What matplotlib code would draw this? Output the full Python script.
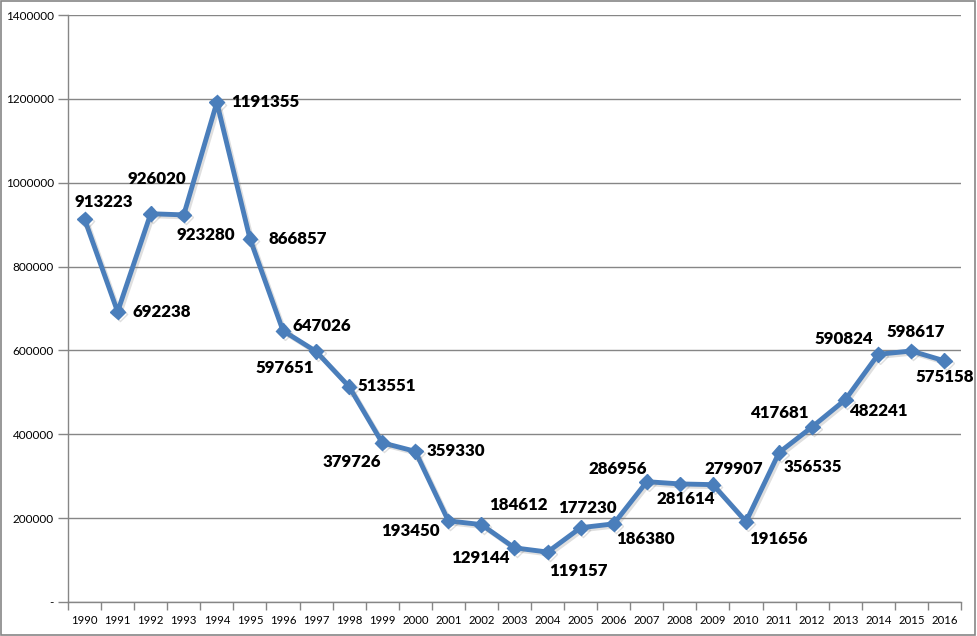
import matplotlib
matplotlib.use("Agg")
import matplotlib.pyplot as plt
from matplotlib.patches import Rectangle
import matplotlib.patheffects as pe

years = [str(y) for y in range(1990, 2017)]
values = [913223, 692238, 926020, 923280, 1191355, 866857, 647026, 597651,
          513551, 379726, 359330, 193450, 184612, 129144, 119157, 177230,
          186380, 286956, 281614, 279907, 191656, 356535, 417681, 482241,
          590824, 598617, 575158]
yticks = [0, 200000, 400000, 600000, 800000, 1000000, 1200000, 1400000]
ytick_labels = ["-", "200000", "400000", "600000", "800000", "1000000", "1200000", "1400000"]

# label offsets in pixels (dx, dy)
offsets = [(19, 17), (44, 0), (6, 35), (22, -20), (48, 0), (48, 0), (39, 5),
           (-31, -17), (38, 1), (-30, -19), (41, 0), (-38, -10), (37, 20),
           (-34, -10), (31, -19), (7, 20), (32, -15), (-29, 13), (6, -15),
           (21, 16), (32, -17), (34, -14), (-33, 14), (33, -11), (-35, 15),
           (4, 19), (0, -16)]

fig = plt.figure(figsize=(9.77, 6.36), dpi=100)
ax = fig.add_axes([68/977, 34/636, (961-68)/977, (602-15)/636])

x = list(range(len(years)))
line_color = "#4A7EBB"
ax.plot(x, values, color=line_color, lw=3.5, marker="D", markersize=7.5,
        markerfacecolor=line_color, markeredgecolor=line_color, zorder=3,
        path_effects=[pe.SimpleLineShadow(offset=(1.5, -1.5), alpha=0.25, shadow_color="gray"), pe.Normal()])

for xi, v, (dx, dy) in zip(x, values, offsets):
    ax.annotate(str(v), (xi, v), xytext=(dx, dy), textcoords="offset pixels",
                ha="center", va="center", fontsize=12.2, fontweight="heavy",
                family="Lato", color="black", zorder=4)

ax.set_xlim(-0.5, len(years) - 0.5)
ax.set_ylim(0, 1400000)
ax.set_yticks(yticks)
ax.set_yticklabels(ytick_labels, family="Lato", fontsize=8.5)
ax.set_xticks(x)
ax.set_xticklabels(years, family="Lato", fontsize=8.2)
ax.set_xticks([i - 0.5 for i in range(len(years) + 1)], minor=True)
ax.tick_params(axis="x", which="major", length=0, pad=9)
ax.tick_params(axis="x", which="minor", length=6, color="#868686", width=1)
ax.tick_params(axis="y", which="major", length=7, color="#868686", width=1, pad=3)

ax.yaxis.grid(True, color="#868686", lw=1)
ax.set_axisbelow(True)
for s in ["top", "right"]:
    ax.spines[s].set_visible(False)
for s in ["left", "bottom"]:
    ax.spines[s].set_color("#868686")
    ax.spines[s].set_linewidth(1)

fig.patches.append(Rectangle((0.001, 0.002), 0.997, 0.996, transform=fig.transFigure,
                             fill=False, edgecolor="#868686", lw=1.2))

fig.savefig("out.png", dpi=100)
